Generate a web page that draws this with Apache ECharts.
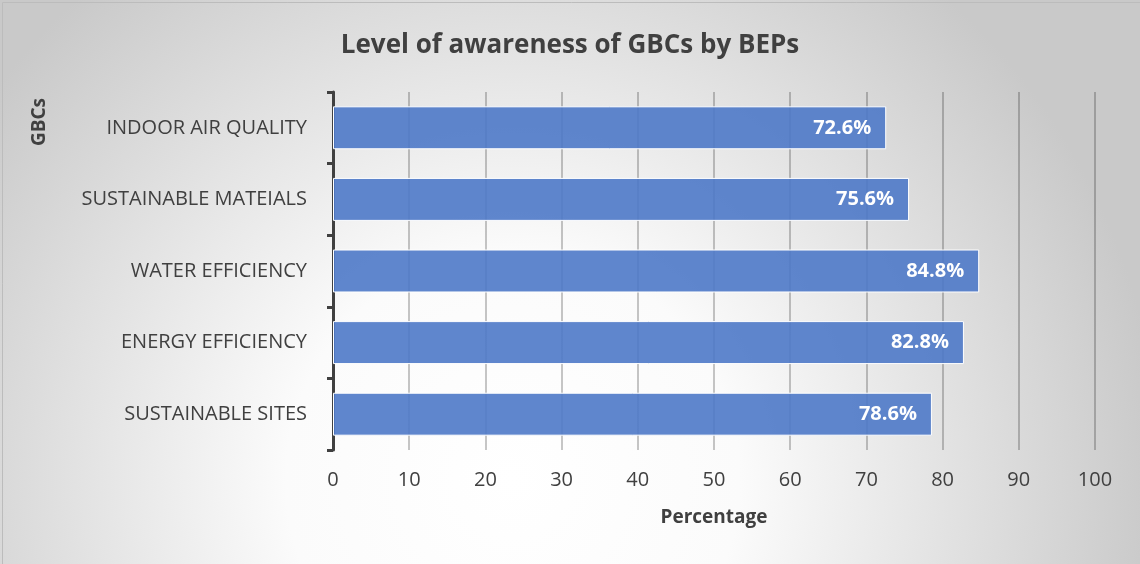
<!DOCTYPE html>
<html>
<head>
<meta charset="utf-8">
<script src="https://cdn.jsdelivr.net/npm/echarts@6/dist/echarts.min.js"></script>
<style>
  html, body { margin: 0; padding: 0; }
  #main { width: 1140px; height: 564px; }
</style>
</head>
<body>
<div id="main"></div>
<script>
// categories top to bottom
const categories = ['INDOOR AIR QUALITY', 'SUSTAINABLE MATEIALS', 'WATER EFFICIENCY', 'ENERGY EFFICIENCY', 'SUSTAINABLE SITES'];
const values = [72.6, 75.6, 84.8, 82.8, 78.6];
const xTicks = [0, 10, 20, 30, 40, 50, 60, 70, 80, 90, 100];

const chart = echarts.init(document.getElementById('main'));
const font = '"Open Sans", "Liberation Sans", sans-serif';

const option = {
  animation: false,
  backgroundColor: {
    type: 'radial', x: 0.45, y: 0.85, r: 1.15,
    colorStops: [
      { offset: 0, color: '#ffffff' },
      { offset: 0.35, color: '#fbfbfb' },
      { offset: 1, color: '#c9c9c9' }
    ]
  },
  title: {
    text: 'Level of awareness of GBCs by BEPs',
    left: 'center',
    top: 28,
    textStyle: { fontFamily: font, fontSize: 26, fontWeight: 'bold', color: '#404040' }
  },
  graphic: [
    {
      type: 'rect', left: 0, top: 0,
      shape: { width: 1139, height: 563 },
      style: { fill: 'none', stroke: '#bcbcbc', lineWidth: 1 }
    },
    {
      type: 'text', x: 40, y: 122, rotation: Math.PI / 2,
      style: { text: 'GBCs', font: 'bold 19px ' + font, fill: '#404040', textAlign: 'center', textVerticalAlign: 'middle' }
    }
  ],
  grid: { left: 333, right: 45, top: 92, bottom: 114, containLabel: false },
  xAxis: {
    type: 'value', min: 0, max: 100, interval: 10,
    name: 'Percentage', nameLocation: 'middle', nameGap: 58,
    nameTextStyle: { fontFamily: font, fontSize: 19, fontWeight: 'bold', color: '#404040' },
    axisLine: { show: false },
    axisTick: { show: false },
    axisLabel: {
      margin: 20, fontFamily: font, fontSize: 20, color: '#404040',
      formatter: v => xTicks.includes(v) ? String(v) : ''
    },
    splitLine: { show: true, lineStyle: { color: 'rgba(0,0,0,0.22)', width: 2 } }
  },
  yAxis: {
    type: 'category', data: categories, inverse: true,
    axisLine: { show: true, lineStyle: { color: '#404040', width: 3 } },
    axisTick: { show: true, length: 6, lineStyle: { color: '#404040', width: 3 } },
    axisLabel: { margin: 26, fontFamily: font, fontSize: 20, color: '#404040' }
  },
  series: [{
    type: 'bar',
    data: values,
    barCategoryGap: '40%',
    itemStyle: { color: 'rgba(78,121,200,0.9)', borderColor: '#ffffff', borderWidth: 1 },
    label: {
      show: true, position: 'insideRight', distance: 15,
      formatter: p => p.value.toFixed(1) + '%',
      fontFamily: font, fontSize: 20, fontWeight: 'bold', color: '#ffffff'
    }
  }]
};
chart.setOption(option);
</script>
</body>
</html>
